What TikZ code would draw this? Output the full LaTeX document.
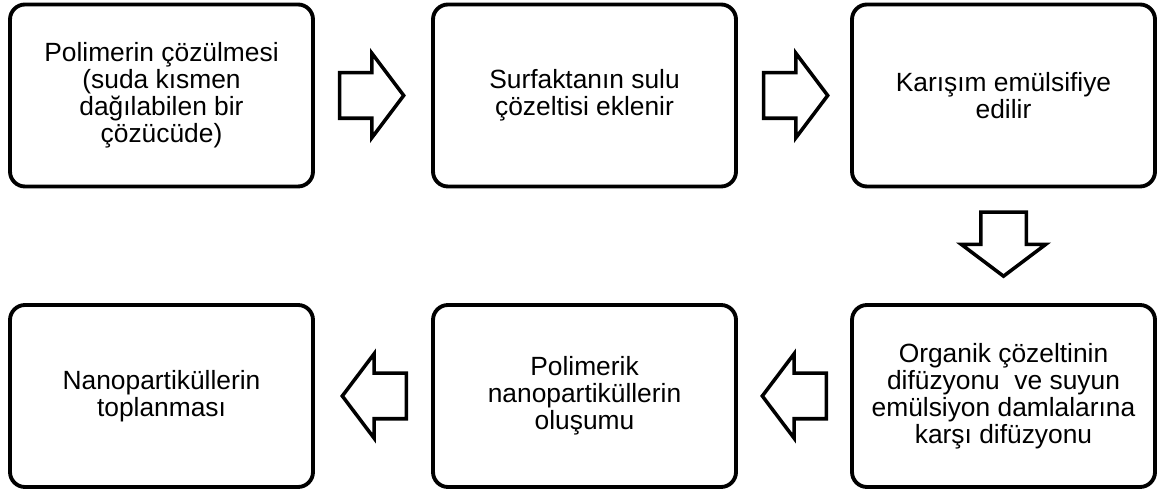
\documentclass[tikz,border=0pt]{standalone}
\usepackage{fontspec}
\setmainfont{Liberation Sans}
\usetikzlibrary{shapes.arrows, positioning}

\begin{document}
\begin{tikzpicture}[
    proc/.style={draw, line width=2.2pt, rounded corners=0.3cm,
                 minimum width=6.06cm, minimum height=3.64cm,
                 font=\fontsize{15}{15.3}\selectfont, align=center},
    blk/.style={draw, single arrow, line width=2pt, inner xsep=0pt,
                inner ysep=0.42cm, minimum height=1.28cm,
                minimum width=1.62cm, single arrow head extend=0.39cm,
                single arrow tip angle=106}]
  \useasboundingbox (0,0) rectangle (23.22,9.88);
  % Steps
  \node[proc] (s1) at (3.23, 7.97)  {Polimerin çözülmesi\\(suda kısmen\\dağılabilen bir\\çözücüde)};
  \node[proc] (s2) at (11.69, 7.97) {Surfaktanın sulu\\çözeltisi eklenir};
  \node[proc] (s3) at (20.07, 7.97) {Karışım emülsifiye\\edilir};
  \node[proc] (s4) at (20.07, 1.96) {Organik çözeltinin\\difüzyonu\ \ ve suyun\\emülsiyon damlalarına\\karşı difüzyonu};
  \node[proc] (s5) at (11.69, 1.96) {Polimerik\\nanopartiküllerin\\oluşumu};
  \node[proc] (s6) at (3.23, 1.96)  {Nanopartiküllerin\\toplanması};
  % Arrows
  \node[blk, right=0.46cm of s1] (a1) {};
  \node[blk, right=0.48cm of s2] (a2) {};
  \node[blk, shape border rotate=270, inner xsep=0.42cm, inner ysep=0pt,
        below=0.44cm of s3] (a3) {};
  \node[blk, shape border rotate=180, left=0.44cm of s4] (a4) {};
  \node[blk, shape border rotate=180, left=0.46cm of s5] (a5) {};
\end{tikzpicture}
\end{document}
